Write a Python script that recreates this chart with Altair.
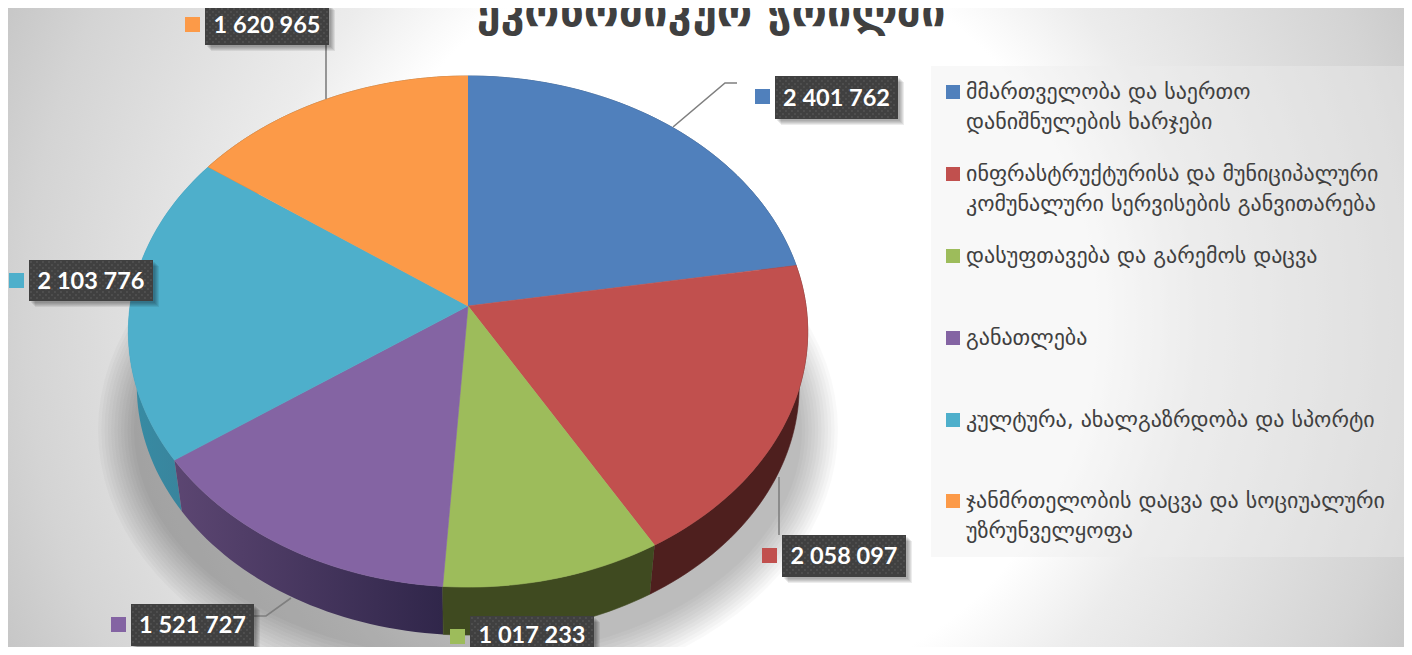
import math
import altair as alt
import pandas as pd

names = [
    ["მმართველობა და საერთო", "დანიშნულების ხარჯები"],
    ["ინფრასტრუქტურისა და მუნიციპალური", "კომუნალური სერვისების განვითარება"],
    ["დასუფთავება და გარემოს დაცვა"],
    ["განათლება"],
    ["კულტურა, ახალგაზრდობა და სპორტი"],
    ["ჯანმრთელობის დაცვა და სოციუალური", "უზრუნველყოფა"],
]
values = [2401762, 2058097, 1017233, 1521727, 2103776, 1620965]
value_labels = ["2 401 762", "2 058 097", "1 017 233", "1 521 727", "2 103 776", "1 620 965"]
title = "ეკონომიკურ ჭრილში"
colors = ["#5080bc", "#c1504e", "#9dbc5b", "#8464a3", "#4eafcb", "#fc9a48"]

W, H = 1396, 639
X = alt.Scale(domain=[8, 8 + W], nice=False, zero=False)
Y = alt.Scale(domain=[8 + H, 8], nice=False, zero=False)
CX, CY, A, B, K = 468.0, 306.0, 338.0, 253.0, 0.1
DROP, SHRINK = 55.0, 0.975


def rim(f, lower=False):
    t = 2 * math.pi * f
    sx, cy = math.sin(t), math.cos(t)
    d = 1 + K * cy
    x, y = A * sx / d, -B * cy / d
    if lower:
        return CX + SHRINK * x, CY + DROP + SHRINK * y
    return CX + x, CY + y


def frange(a, b, step=0.004):
    n = max(2, int((b - a) / step) + 1)
    return [a + (b - a) * i / (n - 1) for i in range(n)]


def poly(points, fill, opacity=1.0, stroke=True):
    df = pd.DataFrame({"x": [p[0] for p in points], "y": [p[1] for p in points], "o": range(len(points))})
    kw = dict(fill=fill, opacity=opacity, interpolate="linear", clip=False)
    if stroke:
        kw.update(stroke=stroke if isinstance(stroke, str) else fill, strokeWidth=0.6)
    else:
        kw.update(strokeWidth=0)
    return alt.Chart(df).mark_line(**kw).encode(
        x=alt.X("x:Q", scale=X, axis=None),
        y=alt.Y("y:Q", scale=Y, axis=None),
        order="o:Q",
    )


def rects(rows, opacity=1.0):
    df = pd.DataFrame(rows, columns=["x", "x2", "y", "y2", "c"])
    return alt.Chart(df).mark_rect(opacity=opacity).encode(
        x=alt.X("x:Q", scale=X, axis=None), x2="x2:Q",
        y=alt.Y("y:Q", scale=Y, axis=None), y2="y2:Q",
        color=alt.Color("c:N", scale=None),
    )


def texts(rows, **mark):
    df = pd.DataFrame(rows, columns=["x", "y", "t"])
    return alt.Chart(df).mark_text(**mark).encode(
        x=alt.X("x:Q", scale=X, axis=None),
        y=alt.Y("y:Q", scale=Y, axis=None),
        text="t:N",
    )


layers = []

# backdrop: the rectangle is taller than the page so that the radial gradient is stretched vertically
bg = alt.Chart(pd.DataFrame({"x": [8], "x2": [8 + W], "y": [-230], "y2": [870]})).mark_rect(
    fill={"gradient": "radial", "x1": 0.51, "y1": 0.5, "r1": 0, "x2": 0.51, "y2": 0.5, "r2": 0.6,
          "stops": [{"offset": 0, "color": "#ffffff"}, {"offset": 0.45, "color": "#ffffff"},
                    {"offset": 0.57, "color": "#ececec"}, {"offset": 0.83, "color": "#d4d4d4"},
                    {"offset": 1, "color": "#bebebe"}]}
).encode(x=alt.X("x:Q", scale=X, axis=None), x2="x2:Q", y=alt.Y("y:Q", scale=Y, axis=None), y2="y2:Q")
layers.append(bg)
layers.append(rects([[931, 1408, 66, 557, "#eeeeee"]], opacity=0.4))

# soft shadow under the pie
steps = 12
for i in range(steps):
    u = i / (steps - 1)
    rx, ry = 370 - 36 * u, 268 - 40 * u
    pts = []
    for f in frange(0, 1, 0.01):
        t = 2 * math.pi * f
        pts.append((CX + rx * math.sin(t), 430 + ry * math.cos(t)))
    layers.append(poly(pts, "#000000", opacity=0.024, stroke=False))

# pie
total = sum(values)
cum = [0.0]
for v in values:
    cum.append(cum[-1] + v / total)


def wall_fill(c0, c1):
    return {"gradient": "linear", "x1": 0, "y1": 0, "x2": 1, "y2": 0,
            "stops": [{"offset": 0, "color": c0}, {"offset": 1, "color": c1}]}


walls = [("#2f4c6d", "#2f4c6d"), ("#4e1f1e", "#4e1f1e"), ("#3f4a20", "#3f4a20"),
         ("#5c4672", "#30264a"), ("#378ca4", "#3a7f98"), ("#8a5a2c", "#8a5a2c")]
for i in [0, 5, 4, 3, 1, 2]:
    fs = frange(cum[i], cum[i + 1])
    pts = [rim(f) for f in fs] + [rim(f, True) for f in reversed(fs)]
    if i in (3, 4):
        layers.append(poly(pts, wall_fill(*walls[i]), stroke=False))
    else:
        layers.append(poly(pts, walls[i][0]))
for i in range(6):
    fs = frange(cum[i], cum[i + 1])
    pts = [(CX, CY)] + [rim(f) for f in fs]
    layers.append(poly(pts, colors[i]))

# leader lines
leaders = [
    [(673, 127), (725, 83), (737, 83)],
    [(779, 477), (779, 535)],
    [(254, 616), (266, 616), (291, 598)],
    [(326, 45), (326, 99)],
]
for k, seg in enumerate(leaders):
    df = pd.DataFrame({"x": [p[0] for p in seg], "y": [p[1] for p in seg], "o": range(len(seg))})
    layers.append(alt.Chart(df).mark_line(color="#7f7f7f", strokeWidth=1.6).encode(
        x=alt.X("x:Q", scale=X, axis=None), y=alt.Y("y:Q", scale=Y, axis=None), order="o:Q"))

# data labels
boxes = [(775, 898, 76, 119), (782, 906, 535, 577), (470, 594, 616, 659),
         (131, 254, 604, 646), (29, 153, 260, 301), (205, 329, 4, 45)]
marks = [(755, 89), (762, 548), (450, 629), (111, 617), (9, 273), (185, 17)]

for g in range(5):
    rows = [[b[0] + 2 + g, b[1] + 2 + g, b[2] + 2 + g, b[3] + 2 + g, "#000000"] for b in boxes]
    layers.append(rects(rows, opacity=0.075))
layers.append(rects([[b[0], b[1], b[2], b[3], "#404040"] for b in boxes]))

dots = []
for b in boxes:
    row = 0
    y = b[2] + 2
    while y < b[3] - 1:
        x = b[0] + 2 + (3 if row % 2 else 0)
        while x < b[1] - 1:
            dots.append({"x": x, "y": y})
            x += 6
        y += 3
        row += 1
layers.append(alt.Chart(pd.DataFrame(dots)).mark_square(size=2, color="#5e5e5e", opacity=0.9).encode(
    x=alt.X("x:Q", scale=X, axis=None), y=alt.Y("y:Q", scale=Y, axis=None)))

layers.append(rects([[m[0], m[0] + 15, m[1], m[1] + 15, colors[i]] for i, m in enumerate(marks)]))
layers.append(texts(
    [[(b[0] + b[1]) / 2, (b[2] + b[3]) / 2 + 1 if i != 2 else 636, value_labels[i]] for i, b in enumerate(boxes)],
    font="Lato", fontWeight="bold", fontSize=23.5, color="#ffffff", align="center", baseline="middle"))

# legend
leg_y = [85, 167, 249, 331, 413, 494]
layers.append(rects([[946, 960, y, y + 14, colors[i]] for i, y in enumerate(leg_y)]))
rows = []
for i, y in enumerate(leg_y):
    for j, line in enumerate(names[i]):
        rows.append([966, y + 7 + 30 * j, line])
layers.append(texts(rows, font="DejaVu Sans", fontSize=22, color="#404040", align="left", baseline="middle"))

# title
layers.append(texts([[711, 13, title]], font="DejaVu Sans", fontWeight="bold", fontSize=43,
                    color="#404040", align="center", baseline="middle"))

chart = alt.layer(*layers).properties(
    width=W, height=H, padding=0, autosize=alt.AutoSizeParams(type="none"),
).configure_view(stroke=None)
chart.save("out.html", embed_options={"renderer": "svg", "actions": False})
